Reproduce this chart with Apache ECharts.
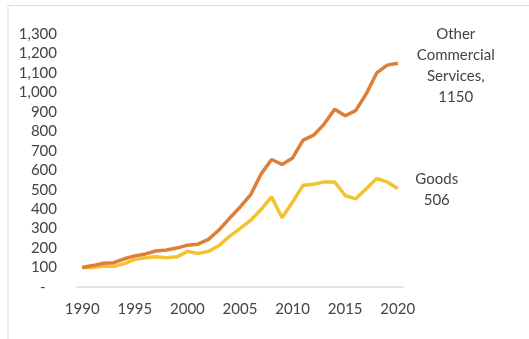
<!DOCTYPE html>
<html>
<head>
<meta charset="utf-8">
<script src="https://cdn.jsdelivr.net/npm/echarts@6/dist/echarts.min.js"></script>
<style>
html,body{margin:0;padding:0;background:#fff;}
#c{width:529px;height:339px;}
</style>
</head>
<body>
<div id="c"></div>
<script>
var years = ['1990','1991','1992','1993','1994','1995','1996','1997','1998','1999','2000','2001','2002','2003','2004','2005','2006','2007','2008','2009','2010','2011','2012','2013','2014','2015','2016','2017','2018','2019','2020'];
var servicesValues = [100,110,122,125,145,160,170,185,190,200,215,220,245,293,353,410,473,580,655,630,663,755,780,837,913,880,906,992,1100,1140,1150];
var goodsValues = [100,100,108,106,120,142,150,155,150,155,183,172,183,213,260,300,342,398,463,356,437,523,528,540,540,470,453,505,557,540,506];
var servicesLabel = 'Other\nCommercial\nServices,\n1150';
var goodsLabel = 'Goods\n506';

var FONT = 'Lato';
var TXT = '#444444';
var chart = echarts.init(document.getElementById('c'), null, {renderer:'canvas'});
chart.setOption({
  animation:false,
  backgroundColor:'#ffffff',
  graphic:[{type:'rect',shape:{x:8,y:5.5,width:540,height:360},style:{fill:'none',stroke:'#dedede',lineWidth:1}}],
  grid:{left:77,right:126,top:34,bottom:52},
  xAxis:{
    type:'category', data:years, boundaryGap:true,
    axisLine:{lineStyle:{color:'#d9d9d9',width:1.5}},
    axisTick:{show:false},
    axisLabel:{interval:4,color:TXT,fontFamily:FONT,fontSize:15,margin:15}
  },
  yAxis:{
    type:'value', min:0, max:1300, interval:100,
    axisLine:{show:false}, axisTick:{show:false}, splitLine:{show:false},
    axisLabel:{color:TXT,fontFamily:FONT,fontSize:15,margin:20,
      formatter:function(v){ return v===0 ? '-   ' : v.toLocaleString('en-US'); }}
  },
  series:[
    {type:'line',data:servicesValues,symbol:'none',lineStyle:{color:'#DF7E37',width:3.5},itemStyle:{color:'#DF7E37'},z:3,
     endLabel:{show:true,formatter:servicesLabel,color:TXT,fontFamily:FONT,fontSize:15,lineHeight:21,align:'center',verticalAlign:'middle',distance:0,offset:[58,2]}},
    {type:'line',data:goodsValues,symbol:'none',lineStyle:{color:'#F3C231',width:3.5},itemStyle:{color:'#F3C231'},z:2,
     endLabel:{show:true,formatter:goodsLabel,color:TXT,fontFamily:FONT,fontSize:15,lineHeight:21,align:'center',verticalAlign:'middle',distance:0,offset:[39,1]}}
  ]
});
</script>
</body>
</html>
